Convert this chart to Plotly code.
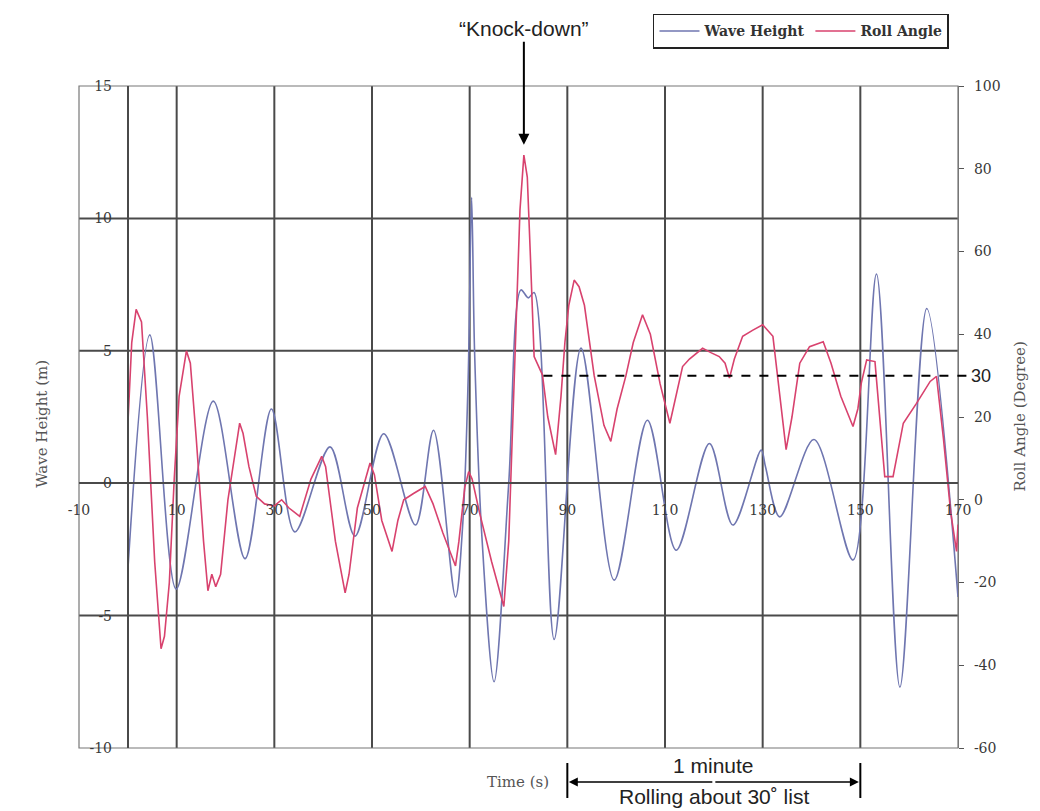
import plotly.graph_objects as go

# ---------------- data ----------------
WAVE_T = [0, 4.5, 9.9, 17.5, 24.0, 29.4, 34.2, 41.4, 46.5, 52.4, 58.9, 62.6, 67.1,
          68.6, 69.7, 70.4, 71.0, 72.5, 75.0, 78.0, 80.5, 82.0, 83.2, 87.3, 92.8,
          99.6, 106.4, 112.3, 119.1, 123.9, 129.7, 130.6, 133.5, 140.5, 148.5,
          153.3, 158.1, 163.6, 170.0]
WAVE_H = [-3.3, 5.6, -4.0, 3.1, -2.85, 2.8, -1.84, 1.37, -2.0, 1.87, -1.58, 2.0, -4.3,
          -1.5, 4.0, 10.8, 5.0, -2.0, -7.5, 0.0, 7.3, 7.0, 7.2, -5.9, 5.1,
          -3.66, 2.38, -2.53, 1.5, -1.58, 1.25, 0.6, -1.27, 1.65, -2.9,
          7.9, -7.7, 6.6, -4.3]

ROLL_T = [0, 0.8, 1.7, 2.8, 4.0, 5.5, 6.8, 7.5, 8.5, 9.5, 10.5, 12.0, 12.8, 14.0,
          15.5, 16.4, 17.2, 18.0, 19.0, 20.5, 22.9, 23.6, 24.8, 26.3, 28.0, 30.0,
          31.5, 33.0, 35.2, 37.5, 39.7, 40.5, 42.5, 44.5, 45.3, 47.0, 49.6, 50.5,
          52.0, 54.1, 55.3, 56.5, 58.5, 60.9, 62.5, 64.5, 67.1, 67.8, 69.0, 69.8,
          70.5, 72.0, 74.5, 77.0, 78.0, 79.2, 80.3, 81.1, 81.8, 82.4, 83.2, 84.9,
          86.0, 87.6, 88.7, 89.5, 90.3, 91.4, 92.4, 93.5, 95.5, 97.5, 98.9, 100.2,
          102.0, 103.5, 105.4, 107.0, 109.0, 111.0, 112.0, 113.6, 115.0, 117.7,
          119.5, 121.1, 122.3, 123.2, 124.2, 125.9, 128.0, 130.0, 132.1, 133.5,
          134.8, 136.0, 137.6, 139.6, 142.4, 144.0, 146.0, 148.5, 149.5, 150.2,
          151.3, 153.0, 154.0, 155.0, 156.7, 158.8, 161.5, 164.3, 165.6, 167.0,
          168.5, 169.7, 170.0]
ROLL_A = [18, 38, 46, 43, 20, -15, -36, -33, -20, 5, 25, 36, 33, 15,
          -10, -22, -18, -21, -18, 0, 18.5, 16, 8, 0.8, -1, -1.5,
          0, -2, -4, 5, 10.5, 8, -10, -22.5, -18, -2, 8.9, 6,
          -5, -12.5, -5, 0, 1.5, 3.2, -1, -8, -16, -10, 3, 6.8,
          5, -3, -15, -25.8, -10, 30, 70, 83.3, 78, 60, 34.6, 30.2,
          20, 10.9, 25, 38, 47, 53.1, 51.5, 47, 30, 18, 14.1, 22,
          30, 38, 44.7, 40, 28, 18.5, 24, 32.2, 34, 36.6,
          35.5, 34.6, 33, 29.4, 34, 39.5, 41, 42.3, 39.5, 25,
          12.1, 20, 33, 37, 38.2, 33, 25, 17.7, 22, 28.2,
          33.8, 33.4, 20, 5.6, 5.6, 18.5, 23.3, 28.6, 29.8, 15,
          -3, -12.5, -6]

X_TICKS = [-10, 10, 30, 50, 70, 90, 110, 130, 150, 170]
X_GRID = [10, 30, 50, 70, 90, 110, 130, 150]
Y_TICKS = [-10, -5, 0, 5, 10, 15]
Y_GRID = [-5, 10, 5]
Y2_TICKS = [-60, -40, -20, 0, 20, 40, 60, 80, 100]
X_RANGE = [-10, 170]
Y_RANGE = [-10, 15]
Y2_RANGE = [-60, 100]
LIST_ANGLE = 30
ROLL_WINDOW = [90, 150]
DASH_START = 85.1

BLUE = "#6f76b0"
RED = "#d8426e"
GRID = "#4a4a4a"
SERIF = "DejaVu Serif"
SANS = "Liberation Sans"


def lab(v):
    return str(v).replace("−", "-")


fig = go.Figure()
fig.add_trace(go.Scatter(x=WAVE_T, y=WAVE_H, name="Wave Height", mode="lines",
                         line=dict(color=BLUE, width=1.6, shape="spline", smoothing=0.9),
                         yaxis="y"))
fig.add_trace(go.Scatter(x=ROLL_T, y=ROLL_A, name="Roll Angle", mode="lines",
                         line=dict(color=RED, width=1.6), yaxis="y2"))

shapes = []
for gx in X_GRID:
    shapes.append(dict(type="line", xref="x", yref="paper", x0=gx, x1=gx, y0=0, y1=1,
                       line=dict(color=GRID, width=2), layer="below"))
for gy in Y_GRID:
    shapes.append(dict(type="line", xref="paper", yref="y", x0=0, x1=1, y0=gy, y1=gy,
                       line=dict(color=GRID, width=2), layer="below"))
# plot border
shapes.append(dict(type="rect", xref="paper", yref="paper", x0=0, x1=1, y0=0, y1=1,
                   line=dict(color="#777777", width=1.2), layer="below"))
# dashed 30 degree list line (in paper units so it can run past the right axis)
dash_x0 = (DASH_START - X_RANGE[0]) / (X_RANGE[1] - X_RANGE[0])
dash_y = (LIST_ANGLE - Y2_RANGE[0]) / (Y2_RANGE[1] - Y2_RANGE[0])
shapes.append(dict(type="line", xref="paper", yref="paper", x0=dash_x0, x1=1.011,
                   y0=dash_y, y1=dash_y,
                   line=dict(color="black", width=2, dash="dash")))
# bars of the 1 minute interval
for bx in ROLL_WINDOW:
    shapes.append(dict(type="line", xref="x", yref="paper", x0=bx, x1=bx,
                       y0=-0.0227, y1=-0.0755, line=dict(color="black", width=2)))

mid = sum(ROLL_WINDOW) / 2
peak_i = ROLL_A.index(max(ROLL_A))
SANS_FONT = dict(family=SANS, size=21, color="#222")
TITLE_FONT = dict(family=SERIF, size=15, color="#555")
C = dict(xanchor="center", yanchor="middle", showarrow=False)
annotations = [
    dict(text="“Knock-down”", x=ROLL_T[peak_i], y=max(ROLL_A) + 2.5, xref="x", yref="y2",
         showarrow=True, ax=0, ay=-116, arrowhead=2, arrowsize=1.1, arrowwidth=2,
         arrowcolor="black", font=SANS_FONT),
    dict(text="", x=ROLL_WINDOW[0] + 0.3, y=-0.0514, xref="x", yref="paper",
         axref="x", ax=mid, ayref="pixel", ay=0, showarrow=True, arrowhead=2,
         arrowsize=1.2, arrowwidth=1.5, arrowcolor="black"),
    dict(text="", x=ROLL_WINDOW[1] - 0.3, y=-0.0514, xref="x", yref="paper",
         axref="x", ax=mid, ayref="pixel", ay=0, showarrow=True, arrowhead=2,
         arrowsize=1.2, arrowwidth=1.5, arrowcolor="black"),
    dict(text="1 minute", x=mid, y=-0.027, xref="x", yref="paper", font=SANS_FONT, **C),
    dict(text="Rolling about 30˚ list", x=mid, y=-0.074, xref="x", yref="paper",
         font=SANS_FONT, **C),
    dict(text="30", x=1.013, y=LIST_ANGLE, xref="paper", yref="y2", xanchor="left",
         yanchor="middle", showarrow=False, font=dict(family=SANS, size=18, color="#222")),
    dict(text="Time (s)", x=0.499, y=-0.052, xref="paper", yref="paper",
         font=TITLE_FONT, **C),
    dict(text="Wave Height (m)", x=-0.043, y=0.49, xref="paper", yref="paper",
         textangle=-90, font=TITLE_FONT, **C),
    dict(text="Roll Angle (Degree)", x=1.07, y=0.5, xref="paper", yref="paper",
         textangle=-90, font=TITLE_FONT, **C),
]

tickfont = dict(family=SERIF, size=14, color="#383838")
fig.update_layout(
    width=1040, height=811,
    margin=dict(l=79, r=82, t=86, b=63),
    paper_bgcolor="white", plot_bgcolor="white",
    showlegend=True,
    legend=dict(orientation="h", x=0.653, y=1.109, xanchor="left", yanchor="top",
                bordercolor="#222", borderwidth=1.5, bgcolor="white",
                font=dict(family=SERIF, size=14, color="#333", weight="bold"),
                itemwidth=40),
    xaxis=dict(range=X_RANGE, domain=[0, 1], tickmode="array", tickvals=X_TICKS,
               ticktext=[lab(v) for v in X_TICKS],
               ticks="", showgrid=False, zeroline=False, anchor="free", position=0.4,
               showline=True, linecolor=GRID, linewidth=2, tickfont=tickfont,
               ticklabelstandoff=14),
    yaxis=dict(range=Y_RANGE, domain=[0, 1], tickmode="array", tickvals=Y_TICKS,
               ticktext=[lab(v) for v in Y_TICKS],
               ticks="", showgrid=False, zeroline=False, anchor="free",
               position=(0 - X_RANGE[0]) / (X_RANGE[1] - X_RANGE[0]),
               showline=True, linecolor=GRID, linewidth=2,
               tickfont=tickfont, ticklabelstandoff=12),
    yaxis2=dict(range=Y2_RANGE, overlaying="y", side="right", anchor="x",
                tickmode="array", tickvals=Y2_TICKS, ticktext=[lab(v) for v in Y2_TICKS],
                ticks="outside", ticklen=5,
                tickcolor="#555", showgrid=False, zeroline=False, showline=True,
                linecolor="#777", linewidth=1.2, tickfont=tickfont, ticklabelstandoff=7),
    shapes=shapes,
    annotations=annotations,
)

# the page's default 8 px body margin would shift the whole figure; remove it
fig.write_html("out.html", config={"displayModeBar": False},
               post_script="document.body.style.margin='0';document.body.style.overflow='hidden';")
